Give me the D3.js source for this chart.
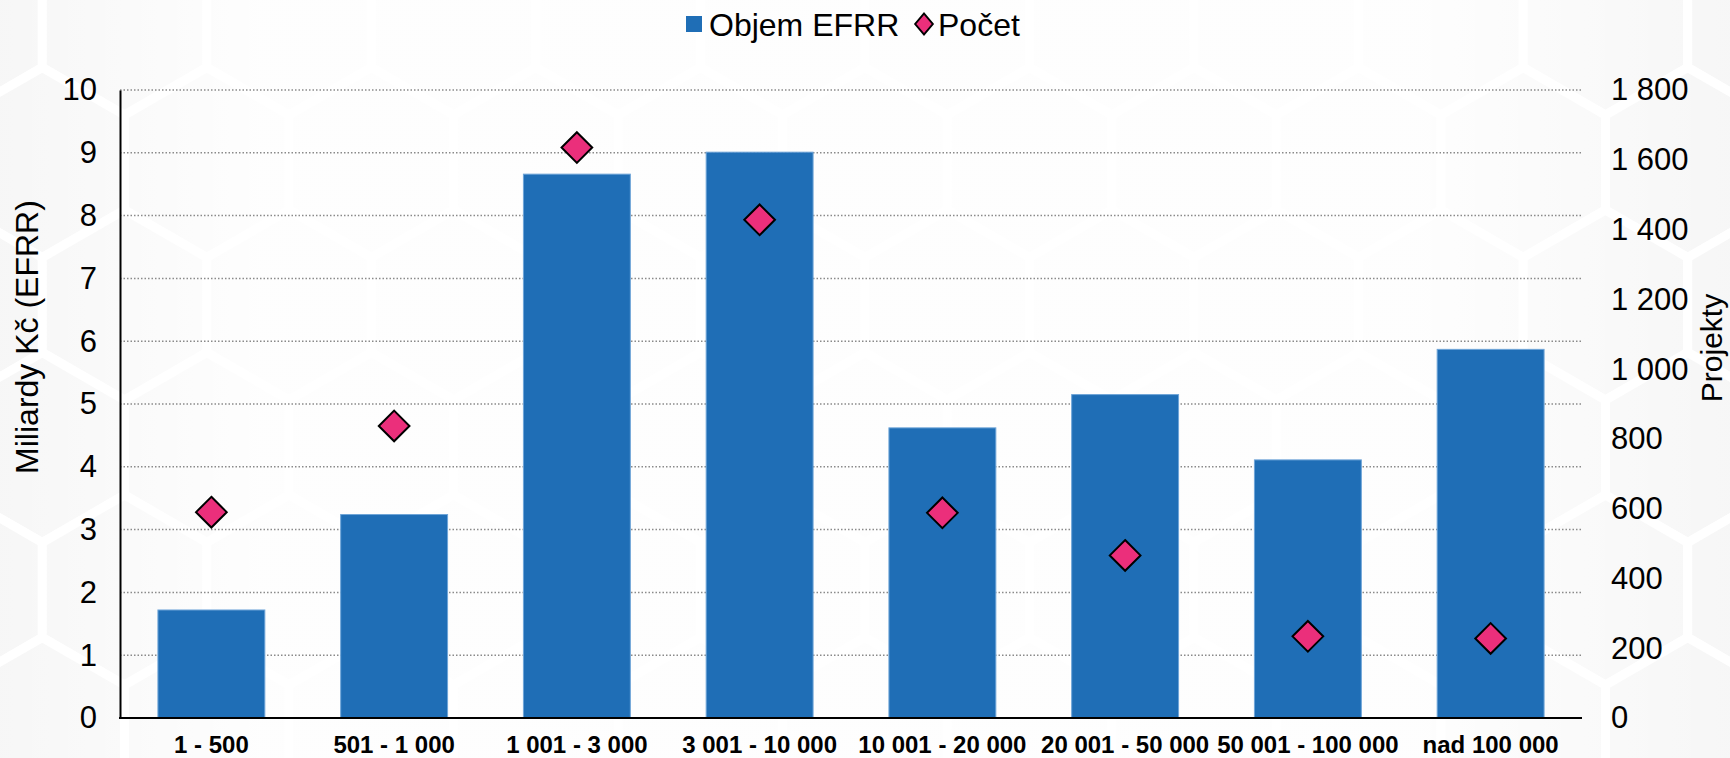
<!DOCTYPE html>
<html lang="cs">
<head>
<meta charset="utf-8">
<script src="https://d3js.org/d3.v7.min.js"></script>
<style>
  body { margin: 0; background: #fff; }
  svg text { font-family: "Liberation Sans", Arial, sans-serif; fill: #000; }
  .grid line { stroke: #8a8a8a; stroke-width: 1.5; stroke-dasharray: 1.5,2; }
</style>
</head>
<body>
<script>
// data
var categories = ["1 - 500", "501 - 1 000", "1 001 - 3 000", "3 001 - 10 000",
                  "10 001 - 20 000", "20 001 - 50 000", "50 001 - 100 000", "nad 100 000"];
var objem = [1.72, 3.24, 8.66, 9.01, 4.62, 5.15, 4.11, 5.87];   // Miliardy Kč (EFRR)
var pocet = [590, 837, 1635, 1428, 588, 466, 234, 228];         // Projekty
var leftTicks = [0, 1, 2, 3, 4, 5, 6, 7, 8, 9, 10];
var rightTicks = [0, 200, 400, 600, 800, 1000, 1200, 1400, 1600, 1800];

var W = 1730, H = 758;
var margin = {top: 90, right: 148, bottom: 40, left: 120};

var svg = d3.select("body").append("svg")
    .attr("width", W)
    .attr("height", H);

// faint hexagon background
var hexR = 95;
var hexW = Math.sqrt(3) * hexR;
var bg = svg.append("g");
bg.append("rect").attr("width", W).attr("height", H).attr("fill", "#f8f8f8");
var centers = [];
for (var row = -1; row * hexR * 1.5 < H + hexR; row++) {
    for (var col = -1; col * hexW < W + hexW; col++) {
        centers.push([col * hexW + (row % 2 ? hexW / 2 : 0) - 40, row * hexR * 1.5 + 20]);
    }
}
var hexPts = d3.range(6).map(function(i) {
    var a = Math.PI / 3 * i + Math.PI / 6;
    return [hexR * Math.cos(a), hexR * Math.sin(a)];
});
bg.selectAll("path").data(centers).enter().append("path")
    .attr("d", function(c) {
        return "M" + hexPts.map(function(p) { return (c[0] + p[0]) + "," + (c[1] + p[1]); }).join("L") + "Z";
    })
    .attr("fill", "#f3f3f3")
    .attr("stroke", "#ffffff")
    .attr("stroke-width", 9);
var grad = svg.append("defs").append("linearGradient").attr("id", "fade");
grad.append("stop").attr("offset", "0%").attr("stop-color", "#fff").attr("stop-opacity", 0.3);
grad.append("stop").attr("offset", "15%").attr("stop-color", "#fff").attr("stop-opacity", 0.9);
grad.append("stop").attr("offset", "82%").attr("stop-color", "#fff").attr("stop-opacity", 0.9);
grad.append("stop").attr("offset", "100%").attr("stop-color", "#fff").attr("stop-opacity", 0.3);
svg.append("rect").attr("width", W).attr("height", H).attr("fill", "url(#fade)");

var x = d3.scaleBand()
    .domain(categories)
    .range([margin.left, W - margin.right])
    .paddingInner(0.415)
    .paddingOuter(0.2075);

var yL = d3.scaleLinear().domain([0, 10]).range([H - margin.bottom, margin.top]);
var yR = d3.scaleLinear().domain([0, 1800]).range([H - margin.bottom, margin.top]);

var fmt = d3.formatLocale({decimal: ",", thousands: "\u00a0", grouping: [3], currency: ["", " Kč"]}).format(",d");

// gridlines
svg.append("g")
    .attr("class", "grid")
    .selectAll("line")
    .data(leftTicks.slice(1))
    .enter().append("line")
    .attr("x1", margin.left)
    .attr("x2", W - margin.right)
    .attr("y1", function(d) { return yL(d); })
    .attr("y2", function(d) { return yL(d); });

// bars
svg.append("g").selectAll("rect")
    .data(objem)
    .enter().append("rect")
    .attr("x", function(d, i) { return x(categories[i]); })
    .attr("y", function(d) { return yL(d); })
    .attr("width", x.bandwidth())
    .attr("height", function(d) { return yL(0) - yL(d); })
    .attr("fill", "#1f6eb6")
    .attr("stroke", "#6ea4d8")
    .attr("stroke-width", 1);

// axes
var axL = svg.append("g")
    .attr("transform", "translate(" + margin.left + ",0)")
    .call(d3.axisLeft(yL).tickValues(leftTicks).tickSize(0).tickPadding(23));
axL.select(".domain").attr("stroke", "#000").attr("stroke-width", 2);
axL.selectAll("text").style("font-size", "31px").style("font-family", "Liberation Sans, Arial, sans-serif");

var axR = svg.append("g")
    .attr("transform", "translate(" + (W - margin.right) + ",0)")
    .call(d3.axisRight(yR).tickValues(rightTicks).tickFormat(fmt).tickSize(0).tickPadding(29));
axR.select(".domain").remove();
axR.selectAll("text").style("font-size", "31px").style("font-family", "Liberation Sans, Arial, sans-serif");

var axB = svg.append("g")
    .attr("transform", "translate(0," + (H - margin.bottom) + ")")
    .call(d3.axisBottom(x).tickSize(0).tickPadding(18));
axB.select(".domain").attr("stroke", "#000").attr("stroke-width", 2)
    .attr("d", "M" + (margin.left - 1) + ",0H" + (W - margin.right));
axB.selectAll("text").style("font-size", "24px").style("font-weight", "bold")
    .style("font-family", "Liberation Sans, Arial, sans-serif");

// diamonds
var sym = d3.symbol().type(d3.symbolDiamond2).size(600);
svg.append("g").selectAll("path")
    .data(pocet)
    .enter().append("path")
    .attr("d", sym)
    .attr("transform", function(d, i) {
        return "translate(" + (x(categories[i]) + x.bandwidth() / 2) + "," + yR(d) + ")";
    })
    .attr("fill", "#eb2f7b")
    .attr("stroke", "#000")
    .attr("stroke-width", 2);

// axis titles
svg.append("text")
    .attr("transform", "translate(38," + 337 + ") rotate(-90)")
    .attr("text-anchor", "middle")
    .style("font-size", "32px")
    .text("Miliardy Kč (EFRR)");
svg.append("text")
    .attr("transform", "translate(1722," + 348 + ") rotate(-90)")
    .attr("text-anchor", "middle")
    .style("font-size", "30px")
    .text("Projekty");

// legend
var lg = svg.append("g");
lg.append("rect").attr("x", 686).attr("y", 16).attr("width", 16).attr("height", 16).attr("fill", "#1f6eb6");
lg.append("text").attr("x", 709).attr("y", 36).style("font-size", "32px").text("Objem EFRR");
lg.append("path")
    .attr("d", d3.symbol().type(d3.symbolDiamond2).size(280))
    .attr("transform", "translate(924,24) scale(0.85,1)")
    .attr("fill", "#eb2f7b")
    .attr("stroke", "#000")
    .attr("stroke-width", 2);
lg.append("text").attr("x", 938).attr("y", 36).style("font-size", "32px").text("Počet");
</script>
</body>
</html>
